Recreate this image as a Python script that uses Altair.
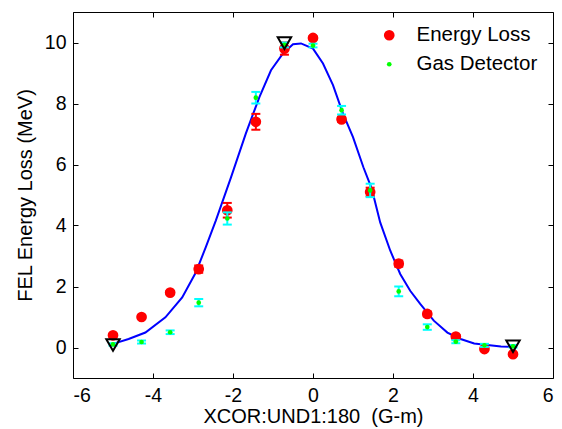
import altair as alt
import pandas as pd

# ---- data ----
x_pts = [-5.0, -4.286, -3.571, -2.857, -2.143, -1.429, -0.714, 0.0,
         0.714, 1.429, 2.143, 2.857, 3.571, 4.286, 5.0]
energy_loss = [0.40, 1.00, 1.80, 2.57, 4.50, 7.40, 9.80, 10.15,
               7.48, 5.10, 2.75, 1.10, 0.36, -0.05, -0.22]
energy_err = [0.05, 0.05, 0.05, 0.12, 0.24, 0.26, 0.20, 0.05,
              0.08, 0.14, 0.10, 0.08, 0.05, 0.05, 0.05]
gas_det = [0.10, 0.18, 0.50, 1.47, 4.23, 8.19, 9.92, 9.90,
           7.78, 5.15, 1.84, 0.67, 0.19, 0.07, 0.04]
gas_err = [0.04, 0.05, 0.06, 0.12, 0.20, 0.19, 0.08, 0.06,
           0.14, 0.22, 0.16, 0.09, 0.05, 0.05, 0.04]

fit_x = [-5.0, -4.61, -4.19, -3.69, -3.27, -2.93, -2.68, -2.43, -2.05, -1.68,
         -1.34, -1.05, -0.75, -0.5, -0.3, 0.0, 0.25, 0.5, 0.75, 1.0, 1.26,
         1.47, 1.68, 1.93, 2.18, 2.43, 2.68, 3.02, 3.36, 3.69, 4.03, 4.36,
         4.7, 5.0]
fit_y = [0.12, 0.28, 0.49, 0.99, 1.64, 2.46, 3.29, 4.16, 5.58, 7.01,
         8.21, 9.09, 9.64, 9.94, 9.97, 9.80, 9.31, 8.60, 7.67, 6.90, 5.91,
         5.20, 4.10, 3.18, 2.41, 1.86, 1.43, 0.88, 0.49, 0.28, 0.13, 0.08,
         0.03, 0.02]

tri_x = [-5.0, -0.714, 5.0]
tri_y = [0.08, 9.98, 0.04]

series_names = ["Energy Loss", "Gas Detector"]
series_colors = ["#ff0000", "#00ff00"]
series_sizes = [115, 22]

x_ticks = [-6, -4, -2, 0, 2, 4, 6]
y_ticks = [0, 2, 4, 6, 8, 10]

FONT = "Liberation Sans"

# ---- tables ----
el = pd.DataFrame({"x": x_pts, "y": energy_loss,
                   "lo": [v - e for v, e in zip(energy_loss, energy_err)],
                   "hi": [v + e for v, e in zip(energy_loss, energy_err)],
                   "series": series_names[0]})
gd = pd.DataFrame({"x": x_pts, "y": gas_det,
                   "lo": [v - e for v, e in zip(gas_det, gas_err)],
                   "hi": [v + e for v, e in zip(gas_det, gas_err)],
                   "series": series_names[1]})
el_caps = pd.DataFrame({"x": x_pts + x_pts, "y": list(el["lo"]) + list(el["hi"])})
gd_caps = pd.DataFrame({"x": x_pts + x_pts, "y": list(gd["lo"]) + list(gd["hi"])})
fit = pd.DataFrame({"x": fit_x, "y": fit_y})
tri = pd.DataFrame({"x": tri_x, "y": tri_y})

xs = alt.Scale(domain=[-6, 6], nice=False, zero=False)
ys = alt.Scale(domain=[-1, 11], nice=False, zero=False)

x_axis = alt.Axis(values=x_ticks, orient="bottom", offset=-5, tickSize=5,
                  domain=False, grid=False, labelFontSize=19.5, labelPadding=8,
                  labelExpr="'' + datum.value",
                  title="XCOR:UND1:180 \u00a0(G-m)", titleFontSize=20,
                  titleFontWeight="normal", titleBaseline="alphabetic",
                  titleY=49)
y_axis = alt.Axis(values=y_ticks, orient="left", offset=-5, tickSize=5,
                  domain=False, grid=False, labelFontSize=19.5, labelPadding=7,
                  labelExpr="'' + datum.value",
                  title="FEL Energy Loss (MeV)", titleFontSize=20,
                  titleFontWeight="normal", titlePadding=9)
x_axis_top = alt.Axis(values=x_ticks, orient="top", offset=-5, tickSize=5,
                      domain=False, grid=False, labels=False, title=None)
y_axis_right = alt.Axis(values=y_ticks, orient="right", offset=-5, tickSize=5,
                        domain=False, grid=False, labels=False, title=None)

color = alt.Color("series:N",
                  scale=alt.Scale(domain=series_names, range=series_colors),
                  legend=alt.Legend(orient="none", legendX=306, legendY=13,
                                    title=None, labelFontSize=20.5, labelFont=FONT,
                                    symbolType="circle", symbolStrokeWidth=0,
                                    symbolOpacity=1, labelOffset=17,
                                    rowPadding=8, padding=0))
size = alt.Size("series:N",
                scale=alt.Scale(domain=series_names, range=series_sizes))

line = alt.Chart(fit).mark_line(color="#0000ff", strokeWidth=2).encode(
    x=alt.X("x:Q", scale=xs, axis=x_axis),
    y=alt.Y("y:Q", scale=ys, axis=y_axis))

el_bar = alt.Chart(el).mark_rule(color="#ff0000", strokeWidth=2).encode(
    x=alt.X("x:Q", scale=xs, axis=None),
    y=alt.Y("lo:Q", scale=ys, axis=None), y2="hi:Q")
el_cap = alt.Chart(el_caps).mark_tick(color="#ff0000", orient="horizontal",
                                      size=9, thickness=2, opacity=1).encode(
    x=alt.X("x:Q", scale=xs, axis=None),
    y=alt.Y("y:Q", scale=ys, axis=None))
el_pts = alt.Chart(el).mark_circle(opacity=1).encode(
    x=alt.X("x:Q", scale=xs, axis=None),
    y=alt.Y("y:Q", scale=ys, axis=None),
    color=color, size=size)

gd_bar = alt.Chart(gd).mark_rule(color="#00ffff", strokeWidth=2).encode(
    x=alt.X("x:Q", scale=xs, axis=None),
    y=alt.Y("lo:Q", scale=ys, axis=None), y2="hi:Q")
gd_cap = alt.Chart(gd_caps).mark_tick(color="#00ffff", orient="horizontal",
                                      size=9, thickness=2, opacity=1).encode(
    x=alt.X("x:Q", scale=xs, axis=None),
    y=alt.Y("y:Q", scale=ys, axis=None))
gd_pts = alt.Chart(gd).mark_circle(opacity=1).encode(
    x=alt.X("x:Q", scale=xs, axis=None),
    y=alt.Y("y:Q", scale=ys, axis=None),
    color=color, size=size)

tri_pts = alt.Chart(tri).mark_point(shape="triangle-down", filled=False,
                                    color="black", strokeWidth=2, size=180,
                                    opacity=1).encode(
    x=alt.X("x:Q", scale=xs, axis=x_axis_top),
    y=alt.Y("y:Q", scale=ys, axis=y_axis_right))

chart = alt.layer(line, el_bar, el_cap, el_pts, gd_bar, gd_cap, gd_pts, tri_pts
).resolve_axis(x="independent", y="independent").properties(
    width=480, height=366,
    autosize=alt.AutoSizeParams(type="none"),
    padding={"left": 65, "top": 4, "right": 1, "bottom": 50},
    background="white"
).configure_view(stroke="black", strokeWidth=1
).configure_axis(labelFont=FONT, titleFont=FONT, labelColor="black",
                 titleColor="black", tickColor="black", tickWidth=1)

chart.save("out.html", embed_options={"renderer": "svg", "actions": False})
